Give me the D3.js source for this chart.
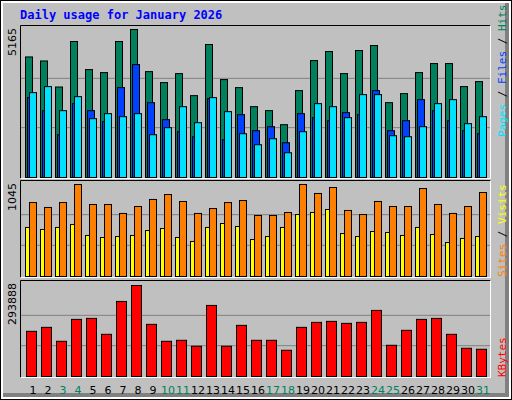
<!DOCTYPE html>
<html><head><meta charset="utf-8">
<script src="https://cdn.jsdelivr.net/npm/d3@7"></script>
<style>body{margin:0;background:#fff}</style>
</head><body>
<script>
// values
var days = d3.range(1, 32);
var weekends = [3, 4, 10, 11, 17, 18, 24, 25, 31];
var hits = [4207, 4067, 3158, 4746, 3766, 3661, 4746, 5165, 3696, 3312, 3626, 2857, 4641, 3417, 3137, 2472,
            2333, 1843, 3032, 4081, 4396, 3626, 4431, 4606, 2612, 2927, 3661, 3976, 3976, 3172, 3347];
var files = [2787, 2332, 1493, 2577, 2332, 1948, 3137, 3941, 2612, 2018, 1598, 1423, 2752, 1318, 2193, 1633,
             1773, 1213, 2228, 2088, 1983, 2263, 2193, 3032, 1633, 1983, 2717, 2332, 1983, 1633, 1528];
var pages = [2962, 3172, 2332, 2822, 2053, 2228, 2123, 2228, 1493, 1738, 2472, 1913, 2787, 2298, 1528, 1144,
             1353, 864, 1598, 2577, 2472, 2088, 2892, 2892, 1458, 1423, 1773, 2577, 2717, 1878, 2123];
var visits = [840, 784, 840, 1045, 818, 818, 716, 795, 875, 931, 852, 716, 772, 840, 863, 693,
              693, 727, 1045, 943, 1011, 750, 704, 852, 795, 795, 999, 818, 716, 795, 954];
var sites = [557, 534, 557, 591, 466, 443, 454, 466, 522, 545, 443, 398, 557, 602, 568, 420,
             454, 557, 704, 727, 761, 488, 454, 511, 500, 466, 557, 477, 386, 432, 454];
var kbytes = [145870, 158745, 113696, 184487, 187705, 136220, 242408, 293888, 168398, 113696, 116913, 97607,
              229536, 97607, 165180, 116913, 116913, 84735, 158745, 174834, 178052, 171616, 174834, 213447,
              100824, 149091, 184487, 187705, 136220, 91171, 87953];

const W = 512, H = 400;
const MONO = "'DejaVu Sans Mono', monospace";
const SANS = "'DejaVu Sans', sans-serif";

var svg = d3.select("body").append("svg").attr("width", W).attr("height", H);

// frame
svg.append("rect").attr("x", 0).attr("y", 0).attr("width", W).attr("height", H).attr("fill", "#000");
svg.append("rect").attr("x", 1).attr("y", 1).attr("width", W - 2).attr("height", H - 2).attr("fill", "#fff");
svg.append("rect").attr("x", 3).attr("y", 3).attr("width", W - 6).attr("height", H - 6).attr("fill", "#808080");
svg.append("rect").attr("x", 3).attr("y", 3).attr("width", W - 10).attr("height", H - 10).attr("fill", "#c0c0c0");

svg.append("text").attr("x", 20).attr("y", 19).text("Daily usage for January 2026")
    .attr("font-family", MONO).attr("font-weight", "bold").attr("font-size", "12px").attr("fill", "#0000ff");

var x = d3.scaleLinear().domain([1, 31]).range([25, 475]);

var panels = [
  {top: 25, base: 177, ymax: 29, max: 5165},
  {top: 180, base: 276, ymax: 184, max: 1045},
  {top: 280, base: 376, ymax: 285, max: 293888}
];
panels.forEach(p => {
  p.y = d3.scaleLinear().domain([0, p.max]).range([p.base, p.ymax]);
  var g = svg.append("g");
  var h = p.base - p.ymax;
  [1, 2].forEach(k => g.append("line").attr("x1", 20).attr("x2", 490)
      .attr("y1", p.base - h * k / 3).attr("y2", p.base - h * k / 3).attr("stroke", "#808080"));
  g.append("path").attr("d", `M20.5,${p.base + 1.5}V${p.top + 0.5}H490.5`).attr("fill", "none").attr("stroke", "#000");
  g.append("path").attr("d", `M490.5,${p.top + 0.5}V${p.base + 1.5}H20.5`).attr("fill", "none").attr("stroke", "#fff");
  svg.append("text").attr("transform", `translate(16,${p.top + 3}) rotate(-90)`)
      .attr("text-anchor", "end").attr("font-family", SANS).attr("font-size", "11px").text(d3.format("d")(p.max));
});

function bars(series, p, dx, w, color) {
  svg.append("g").selectAll("rect").data(series).enter().append("rect")
    .attr("x", (v, i) => x(days[i]) + dx + 0.5)
    .attr("y", v => p.y(v) + 0.5)
    .attr("width", w)
    .attr("height", v => p.base - p.y(v))
    .attr("fill", color).attr("stroke", "#000");
}
bars(hits, panels[0], 0, 7, "#00805c");
bars(files, panels[0], 2, 7, "#0040ff");
bars(pages, panels[0], 4, 7, "#00e0ff");
bars(sites, panels[1], 0, 7, "#ffff00");
bars(visits, panels[1], 4, 7, "#ff8000");
bars(kbytes, panels[2], 1, 10, "#ff0000");

// day labels
svg.append("g").selectAll("text").data(days).enter().append("text")
  .attr("x", d => x(d) + 8).attr("y", 394).attr("text-anchor", "middle")
  .attr("font-family", SANS).attr("font-size", "11px")
  .attr("fill", d => weekends.includes(d) ? "#00805c" : "#000").text(d => d);

// right side legends (read bottom to top)
function legend(parts, yBottom) {
  var t = svg.append("text").attr("transform", `translate(506,${yBottom}) rotate(-90)`)
    .attr("font-family", MONO).attr("font-size", "11px");
  parts.forEach(pt => t.append("tspan").attr("fill", pt[1]).text(pt[0]));
}
legend([["Pages", "#00e0ff"], [" / ", "#000"], ["Files", "#0040ff"], [" / ", "#000"], ["Hits", "#00805c"]], 137);
legend([["Sites", "#ff8000"], [" / ", "#000"], ["Visits", "#ffff00"]], 277);
legend([["KBytes", "#ff0000"]], 377);
</script>
</body></html>
